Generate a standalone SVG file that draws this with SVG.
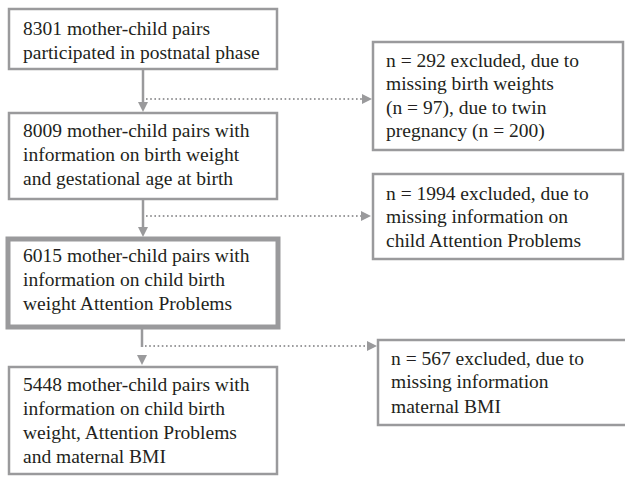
<svg xmlns="http://www.w3.org/2000/svg" width="625" height="483" viewBox="0 0 625 483">
<style>
.box{fill:#fff;stroke:#9a9a9c;stroke-width:2.5}
.thick{stroke-width:5}
.t{font-family:'Liberation Serif','Times New Roman','DejaVu Serif',serif;font-size:19.5px;fill:#231f20}
.v{stroke:#9a9a9c;stroke-width:2.5;fill:none}
.d{stroke:#9a9a9c;stroke-width:2;fill:none;stroke-dasharray:1.6 2.6}
.ah{fill:#9a9a9c}
</style>
<rect width="625" height="483" fill="#fff"/>
<g id="connectors">
<line class="v" x1="143" y1="69" x2="143" y2="104"/>
<polygon class="ah" points="138,102 148,102 143,112"/>
<line class="d" x1="146" y1="99" x2="363" y2="99"/>
<polygon class="ah" points="362,94 372,99 362,104"/>
<line class="v" x1="143" y1="199" x2="143" y2="229"/>
<polygon class="ah" points="138,227 148,227 143,237"/>
<line class="d" x1="146" y1="216" x2="362" y2="216"/>
<polygon class="ah" points="361,211 371,216 361,221"/>
<line class="v" x1="142" y1="327" x2="142" y2="347"/>
<line class="d" x1="145" y1="346" x2="368" y2="346"/>
<polygon class="ah" points="367,341 377,346 367,351"/>
<polygon class="ah" points="137,355 147,355 142,365"/>
</g>
<g id="n1">
<rect class="box" x="9" y="9" width="268" height="60"/>
<text class="t" font-family="Liberation Serif, serif" x="23" y="35">8301 mother-child pairs</text>
<text class="t" font-family="Liberation Serif, serif" x="23" y="59">participated in postnatal phase</text>
</g>
<g id="n2">
<rect class="box" x="9" y="113" width="268" height="86"/>
<text class="t" x="23" y="137">8009 mother-child pairs with</text>
<text class="t" x="23" y="161">information on birth weight</text>
<text class="t" x="23" y="185">and gestational age at birth</text>
</g>
<g id="n3">
<rect class="box thick" x="8" y="239" width="270" height="88"/>
<text class="t" x="23" y="262">6015 mother-child pairs with</text>
<text class="t" x="23" y="286">information on child birth</text>
<text class="t" x="23" y="310">weight Attention Problems</text>
</g>
<g id="n4">
<rect class="box" x="9" y="367" width="268" height="107"/>
<text class="t" x="23" y="391">5448 mother-child pairs with</text>
<text class="t" x="23" y="415">information on child birth</text>
<text class="t" x="23" y="439">weight, Attention Problems</text>
<text class="t" x="23" y="463">and maternal BMI</text>
</g>
<g id="e1">
<rect class="box" x="373" y="42" width="250" height="108"/>
<text class="t" x="386" y="67">n = 292 excluded, due to</text>
<text class="t" x="386" y="90">missing birth weights</text>
<text class="t" x="386" y="114">(n = 97), due to twin</text>
<text class="t" x="386" y="137">pregnancy (n = 200)</text>
</g>
<g id="e2">
<rect class="box" x="373" y="174" width="250" height="85"/>
<text class="t" x="386" y="200">n = 1994 excluded, due to</text>
<text class="t" x="386" y="223">missing information on</text>
<text class="t" x="386" y="247">child Attention Problems</text>
</g>
<g id="e3">
<rect class="box" x="378" y="340" width="260" height="85"/>
<text class="t" x="391" y="365">n = 567 excluded, due to</text>
<text class="t" x="391" y="388">missing information</text>
<text class="t" x="391" y="413">maternal BMI</text>
</g>
</svg>
